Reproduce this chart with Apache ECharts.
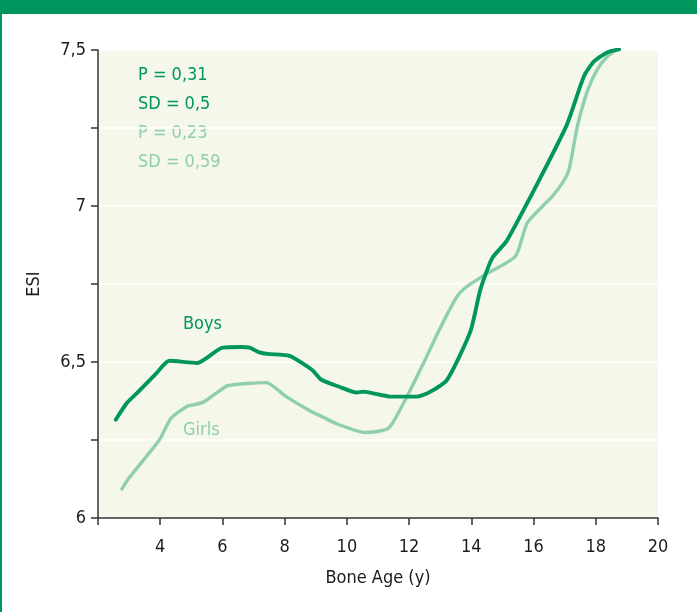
<!DOCTYPE html>
<html>
<head>
<meta charset="utf-8">
<title>ESI vs Bone Age</title>
<script src="https://cdn.jsdelivr.net/npm/echarts@6/dist/echarts.min.js"></script>
<style>
  html, body { margin: 0; padding: 0; background: #fff; }
  #main { width: 697px; height: 612px; }
</style>
</head>
<body>
<div id="main"></div>
<script>
// bone age (y) / ESI pairs
var boysAge = [2.57, 2.94, 3.26, 3.86, 4.29, 5.19, 6.0, 6.6, 6.87, 7.19, 7.45, 8.16, 8.65, 8.9, 9.18, 9.77, 10.31, 10.52, 11.06, 11.39, 12.25, 12.61, 13.22, 13.97, 14.29, 14.67, 15.15, 17.03, 17.62, 17.95, 18.38, 18.75];
var boysEsi = [6.315, 6.37, 6.401, 6.462, 6.504, 6.497, 6.546, 6.548, 6.546, 6.531, 6.526, 6.52, 6.491, 6.473, 6.443, 6.42, 6.402, 6.405, 6.395, 6.389, 6.389, 6.401, 6.443, 6.598, 6.732, 6.833, 6.89, 7.251, 7.416, 7.464, 7.493, 7.502];

var girlsAge = [2.77, 2.95, 3.97, 4.35, 4.88, 5.1, 5.42, 5.8, 6.17, 7.41, 8.05, 8.81, 9.24, 9.67, 10.58, 11.33, 11.82, 12.46, 13.0, 13.54, 13.86, 14.45, 15.42, 15.8, 16.6, 16.93, 17.14, 17.41, 17.73, 18.05, 18.38, 18.7];
var girlsEsi = [6.093, 6.122, 6.25, 6.32, 6.359, 6.363, 6.373, 6.4, 6.424, 6.434, 6.389, 6.344, 6.323, 6.302, 6.274, 6.287, 6.368, 6.496, 6.609, 6.71, 6.742, 6.78, 6.839, 6.946, 7.031, 7.074, 7.117, 7.256, 7.368, 7.438, 7.48, 7.502];

var boysStats = ['P = 0,31', 'SD = 0,5'];
var girlsStats = ['P = 0,23', 'SD = 0,59'];

var boysColor = '#00965e';
var girlsColor = '#8fcfab';
var inkColor = '#1c1c1c';
var font = '"DejaVu Sans Condensed", "Liberation Sans Narrow", sans-serif';

function pairs(xs, ys) {
  return xs.map(function (x, i) { return [x, ys[i]]; });
}

var chart = echarts.init(document.getElementById('main'));

var option = {
  animation: false,
  backgroundColor: '#fff',
  textStyle: { fontFamily: font },
  grid: {
    left: 98, right: 39, top: 50, bottom: 94,
    show: true, backgroundColor: '#f5f7ea', borderWidth: 0
  },
  xAxis: {
    type: 'value',
    min: 2, max: 20, interval: 2,
    name: 'Bone Age (y)',
    nameLocation: 'middle',
    nameGap: 51,
    nameTextStyle: { fontSize: 18, color: inkColor, fontFamily: font },
    axisLine: { lineStyle: { color: '#333', width: 1.5 } },
    axisTick: { inside: false, length: 7, lineStyle: { color: '#333', width: 1.5 } },
    axisLabel: {
      margin: 20, fontSize: 18, color: inkColor, fontFamily: font,
      formatter: function (v) { return v === 2 ? '' : String(v); }
    },
    splitLine: { show: false }
  },
  yAxis: {
    type: 'value',
    min: 6, max: 7.5, interval: 0.25,
    name: 'ESI',
    nameLocation: 'middle',
    nameGap: 55,
    nameRotate: 90,
    nameTextStyle: { fontSize: 18, color: inkColor, fontFamily: font },
    axisLine: { show: true, lineStyle: { color: '#333', width: 1.5 } },
    axisTick: { show: true, length: 7, lineStyle: { color: '#333', width: 1.5 } },
    axisLabel: {
      margin: 12, fontSize: 18, color: inkColor, fontFamily: font,
      formatter: function (v) {
        if (Math.abs(v * 2 - Math.round(v * 2)) > 1e-6) return '';
        return String(v).replace('.', ',');
      }
    },
    splitLine: { show: true, lineStyle: { color: '#ffffff', width: 1.5 } }
  },
  series: [
    {
      name: 'Girls',
      type: 'line',
      data: pairs(girlsAge, girlsEsi),
      showSymbol: false,
      smooth: 0.2,
      lineStyle: { color: girlsColor, width: 3.4, cap: 'round' },
      z: 2
    },
    {
      name: 'Boys',
      type: 'line',
      data: pairs(boysAge, boysEsi),
      showSymbol: false,
      smooth: 0.2,
      lineStyle: { color: boysColor, width: 3.9, cap: 'round' },
      z: 3
    }
  ],
  graphic: [
    { type: 'rect', left: 0, top: 0, shape: { width: 697, height: 14 }, style: { fill: '#00965e' } },
    { type: 'rect', left: 0, top: 0, shape: { width: 2, height: 612 }, style: { fill: '#00965e' } },
    { type: 'text', left: 138, top: 66, style: { text: boysStats[0], fill: boysColor, font: '18px ' + font } },
    { type: 'text', left: 138, top: 95, style: { text: boysStats[1], fill: boysColor, font: '18px ' + font } },
    { type: 'text', left: 138, top: 124, style: { text: girlsStats[0], fill: girlsColor, font: '18px ' + font } },
    { type: 'text', left: 138, top: 153, style: { text: girlsStats[1], fill: girlsColor, font: '18px ' + font } },
    { type: 'text', left: 183, top: 315, style: { text: 'Boys', fill: boysColor, font: '18px ' + font } },
    { type: 'text', left: 183, top: 421, style: { text: 'Girls', fill: girlsColor, font: '18px ' + font } }
  ]
};

chart.setOption(option);
</script>
</body>
</html>
